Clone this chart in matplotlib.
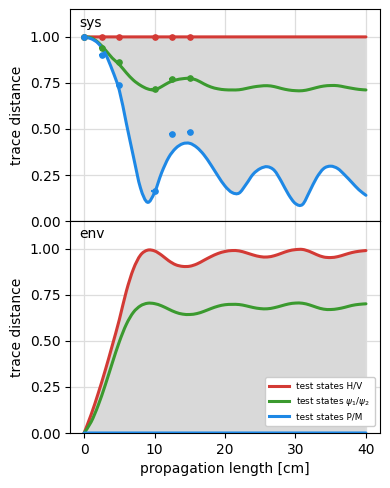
import numpy as np
import matplotlib
matplotlib.use("Agg")
import matplotlib.pyplot as plt
from matplotlib.path import Path
from matplotlib.patches import PathPatch

# propagation length grid [cm]
length = list(range(0, 41))

# system trace distance (model curves)
sys_hv = [1.0] * 41
sys_psi = [1.000, 0.995, 0.970, 0.930, 0.885, 0.850, 0.805, 0.765, 0.737, 0.718,
           0.712, 0.730, 0.752, 0.766, 0.773, 0.775, 0.765, 0.745, 0.728, 0.718,
           0.713, 0.712, 0.713, 0.720, 0.728, 0.733, 0.735, 0.730, 0.720, 0.712,
           0.708, 0.708, 0.715, 0.725, 0.733, 0.736, 0.735, 0.728, 0.721, 0.715,
           0.712]
sys_pm = [1.000, 0.990, 0.965, 0.910, 0.820, 0.710, 0.530, 0.350, 0.180, 0.102,
          0.155, 0.262, 0.345, 0.395, 0.420, 0.422, 0.400, 0.360, 0.305, 0.245,
          0.190, 0.155, 0.152, 0.200, 0.255, 0.285, 0.295, 0.275, 0.215, 0.145,
          0.095, 0.090, 0.160, 0.235, 0.285, 0.298, 0.285, 0.250, 0.210, 0.170,
          0.140]

# environment trace distance (model curves)
env_hv = [0.000, 0.100, 0.215, 0.340, 0.475, 0.615, 0.770, 0.890, 0.965, 0.992,
          0.988, 0.965, 0.935, 0.913, 0.904, 0.905, 0.917, 0.937, 0.957, 0.974,
          0.985, 0.990, 0.988, 0.978, 0.966, 0.957, 0.955, 0.962, 0.975, 0.988,
          0.995, 0.996, 0.985, 0.968, 0.955, 0.952, 0.957, 0.968, 0.979, 0.986,
          0.990]
env_psi = [0.000, 0.060, 0.150, 0.260, 0.380, 0.495, 0.590, 0.655, 0.690, 0.704,
           0.702, 0.690, 0.672, 0.655, 0.645, 0.643, 0.648, 0.660, 0.675, 0.688,
           0.696, 0.698, 0.697, 0.690, 0.681, 0.675, 0.674, 0.680, 0.690, 0.700,
           0.705, 0.704, 0.695, 0.682, 0.672, 0.670, 0.674, 0.682, 0.692, 0.698,
           0.701]
env_pm = [0.0] * 41

# measured data points (system)
meas_x = [0, 2.5, 5, 10, 12.5, 15]
meas_hv = [1.0, 1.0, 1.0, 1.0, 1.0, 1.0]
meas_psi = [1.0, 0.94, 0.865, 0.715, 0.77, 0.775]
meas_pm = [1.0, 0.90, 0.74, 0.165, 0.475, 0.485]

labels = ["test states H/V", r"test states $\psi_1/\psi_2$", "test states P/M"]
RED, GREEN, BLUE = "#d33a35", "#3b9a2f", "#1e88e5"
FILL = "#d9d9d9"


def smooth_segments(xs, ys):
    """Bezier control points (Catmull-Rom) passing through the data points."""
    xs = np.asarray(xs, float)
    ys = np.asarray(ys, float)
    n = len(xs)
    verts, codes = [], []
    for i in range(n - 1):
        i0, i3 = max(i - 1, 0), min(i + 2, n - 1)
        c1 = (xs[i] + (xs[i + 1] - xs[i0]) / 6, ys[i] + (ys[i + 1] - ys[i0]) / 6)
        c2 = (xs[i + 1] - (xs[i3] - xs[i]) / 6, ys[i + 1] - (ys[i3] - ys[i]) / 6)
        verts += [c1, c2, (xs[i + 1], ys[i + 1])]
        codes += [Path.CURVE4] * 3
    return verts, codes


def smooth_line(ax, xs, ys, **kw):
    verts, codes = smooth_segments(xs, ys)
    path = Path([(xs[0], ys[0])] + verts, [Path.MOVETO] + codes)
    ax.add_patch(PathPatch(path, fill=False, capstyle="round", **kw))


def smooth_fill(ax, xs, lo, hi, **kw):
    v1, c1 = smooth_segments(xs, hi)
    v2, c2 = smooth_segments(xs[::-1], lo[::-1])
    verts = [(xs[0], hi[0])] + v1 + [(xs[-1], lo[-1])] + v2 + [(xs[0], hi[0])]
    codes = [Path.MOVETO] + c1 + [Path.LINETO] + c2 + [Path.CLOSEPOLY]
    ax.add_patch(PathPatch(Path(verts, codes), lw=0, **kw))


fig = plt.figure(figsize=(3.9, 4.88), dpi=100)
ax1 = fig.add_axes([0.1795, 0.547, 0.7949, 0.434])
ax2 = fig.add_axes([0.1795, 0.1127, 0.7949, 0.4343], sharex=ax1)

x = list(length)
for ax in (ax1, ax2):
    ax.grid(True, color="#dddddd", lw=0.9)
    ax.set_axisbelow(True)

smooth_fill(ax1, x, sys_pm, sys_hv, color=FILL, zorder=1)
smooth_line(ax1, x, sys_hv, color=RED, lw=2.2, zorder=3)
smooth_line(ax1, x, sys_psi, color=GREEN, lw=2.2, zorder=3)
smooth_line(ax1, x, sys_pm, color=BLUE, lw=2.2, zorder=3)
for vals, c in ((meas_hv, RED), (meas_psi, GREEN), (meas_pm, BLUE)):
    ax1.errorbar(meas_x, vals, xerr=0.45, yerr=0.008, fmt="o", ms=3.8,
                 color=c, elinewidth=1.5, capsize=0, zorder=4)

smooth_fill(ax2, x, env_pm, env_hv, color=FILL, zorder=1)
smooth_line(ax2, x, env_hv, color=RED, lw=2.2, zorder=3)
smooth_line(ax2, x, env_psi, color=GREEN, lw=2.2, zorder=3)
smooth_line(ax2, x, env_pm, color=BLUE, lw=2.2, zorder=3)
for lab, c in zip(labels, (RED, GREEN, BLUE)):
    ax2.plot([], [], color=c, lw=2.2, label=lab)

yt = [0.0, 0.25, 0.5, 0.75, 1.0]
for ax in (ax1, ax2):
    ax.set_ylim(0, 1.15)
    ax.set_yticks(yt)
    ax.set_yticklabels(["0.00", "0.25", "0.50", "0.75", "1.00"])
    ax.set_ylabel("trace distance", fontsize=10)
    ax.tick_params(labelsize=10)
ax1.set_xlim(-2, 42)
ax2.set_xticks([0, 10, 20, 30, 40])
ax1.tick_params(axis="x", bottom=False, labelbottom=False)
ax2.set_xlabel("propagation length [cm]", fontsize=10)

ax1.text(0.03, 0.97, "sys", transform=ax1.transAxes, va="top", ha="left", fontsize=10)
ax2.text(0.03, 0.97, "env", transform=ax2.transAxes, va="top", ha="left", fontsize=10)

ax2.legend(loc="lower right", fontsize=6.4, handlelength=2.2, framealpha=1,
           borderpad=0.5, labelspacing=0.5, bbox_to_anchor=(0.997, 0.012))

fig.savefig("out.png", dpi=100)
